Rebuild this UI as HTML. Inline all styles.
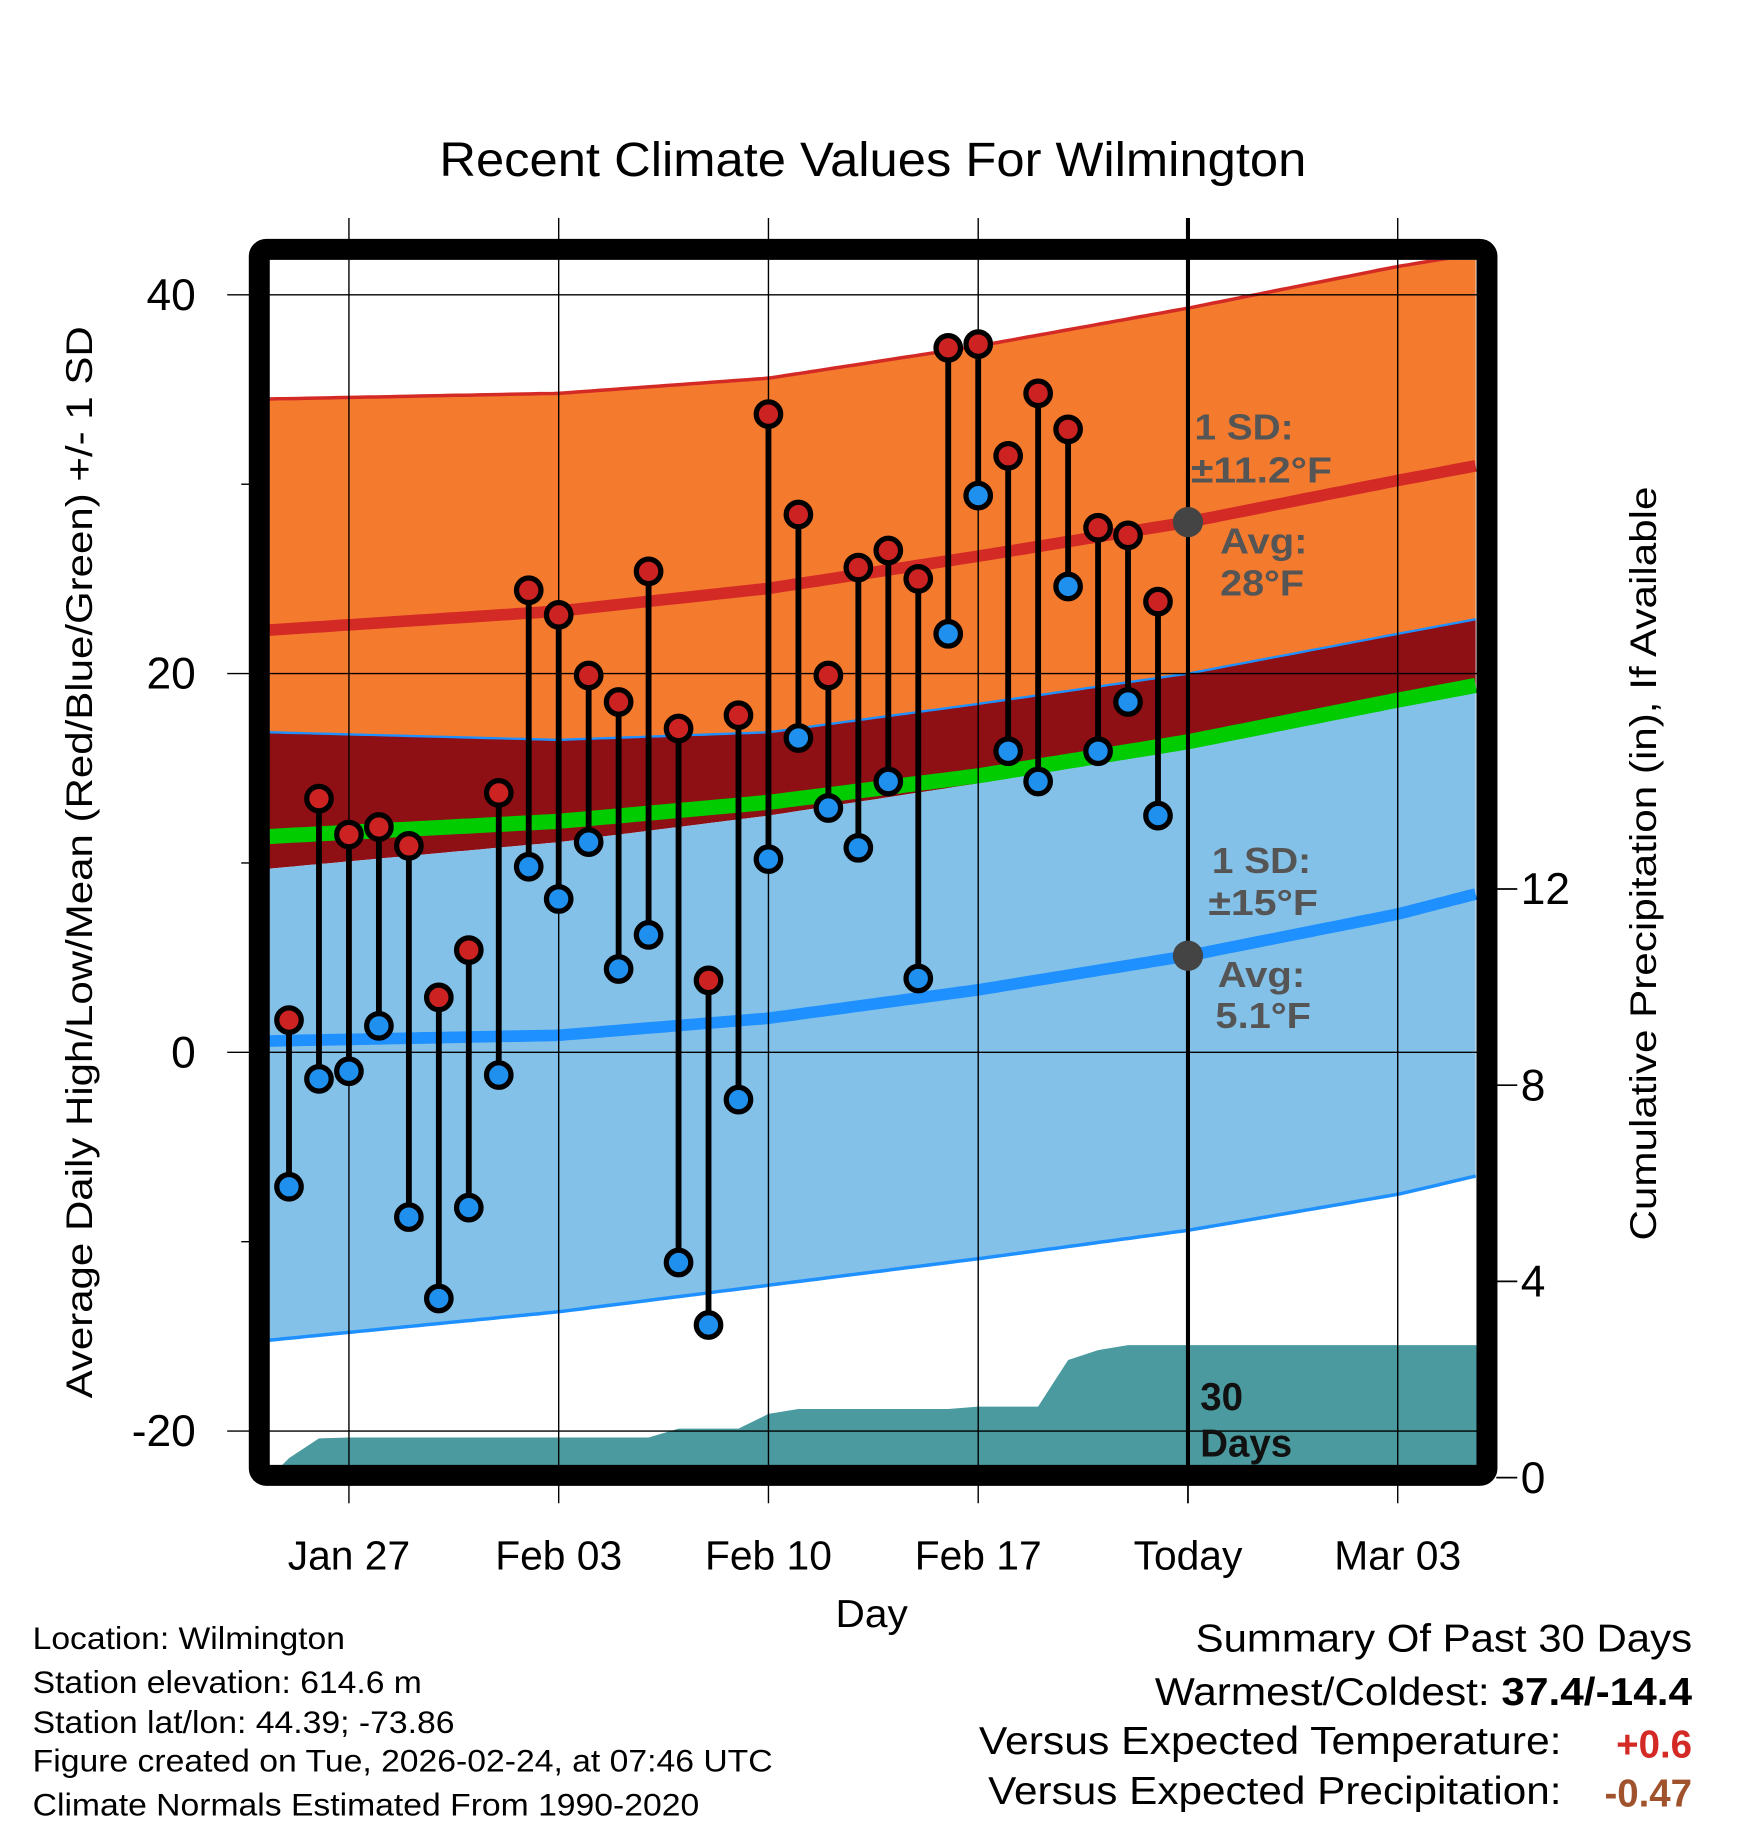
<!DOCTYPE html>
<html><head><meta charset="utf-8"><style>html,body{margin:0;padding:0;background:#fff}svg{display:block}text{font-family:"Liberation Sans",Arial,sans-serif}</style></head>
<body>
<svg id="chart" xmlns="http://www.w3.org/2000/svg" width="1748" height="1828" viewBox="0 0 1500 1568.6">
<defs><clipPath id="plotclip"><rect x="231" y="223" width="1037" height="1035"/></clipPath></defs>
<rect width="1500" height="1570" fill="#fff"/>
<g id="fills" clip-path="url(#plotclip)"></g>
<g id="grid"></g>
<g id="marks"></g>
<text x="377" y="151" font-size="41" textLength="744" lengthAdjust="spacingAndGlyphs">Recent Climate Values For Wilmington</text>
<text transform="translate(79,740) rotate(-90)" font-size="32" text-anchor="middle" textLength="920" lengthAdjust="spacingAndGlyphs">Average Daily High/Low/Mean (Red/Blue/Green) +/- 1 SD</text>
<text transform="translate(1421,741) rotate(-90)" font-size="32" text-anchor="middle" textLength="647" lengthAdjust="spacingAndGlyphs">Cumulative Precipitation (in), If Available</text>
<text x="717" y="1396" font-size="33" textLength="62" lengthAdjust="spacingAndGlyphs">Day</text>
<g font-size="27">
<text x="28" y="1415" textLength="268" lengthAdjust="spacingAndGlyphs">Location: Wilmington</text>
<text x="28" y="1453" textLength="334" lengthAdjust="spacingAndGlyphs">Station elevation: 614.6 m</text>
<text x="28" y="1487" textLength="362" lengthAdjust="spacingAndGlyphs">Station lat/lon: 44.39; -73.86</text>
<text x="28" y="1520" textLength="635" lengthAdjust="spacingAndGlyphs">Figure created on Tue, 2026-02-24, at 07:46 UTC</text>
<text x="28" y="1558" textLength="572" lengthAdjust="spacingAndGlyphs">Climate Normals Estimated From 1990-2020</text>
</g>
<g font-size="33">
<text x="1026" y="1417" textLength="426" lengthAdjust="spacingAndGlyphs">Summary Of Past 30 Days</text>
<text x="991" y="1463" textLength="461" lengthAdjust="spacingAndGlyphs">Warmest/Coldest: <tspan font-weight="bold">37.4/-14.4</tspan></text>
<text x="840" y="1505" textLength="500" lengthAdjust="spacingAndGlyphs">Versus Expected Temperature:</text>
<text x="1452" y="1508" font-weight="bold" fill="#d42a25" text-anchor="end">+0.6</text>
<text x="848" y="1548" textLength="492" lengthAdjust="spacingAndGlyphs">Versus Expected Precipitation:</text>
<text x="1452" y="1550" font-weight="bold" fill="#a0522d" text-anchor="end">-0.47</text>
</g>
</svg>
<script>
const knotDays=[-0.65,9,16,23,30,37,39.7];
const hiPlus=[34.5,34.8,35.6,37.3,39.3,41.5,42.2];
const hiAvg=[22.3,23.3,24.5,26.2,28.0,30.2,31.0];
const hiMinus=[16.9,16.5,16.9,18.4,20.0,22.1,22.9];
const loPlus=[9.7,11.1,12.5,14.2,16.2,18.4,19.3];
const meanT=[11.4,12.2,13.2,14.6,16.4,18.6,19.4];
const loAvg=[0.6,0.9,1.8,3.3,5.1,7.3,8.4];
const loMinus=[-15.2,-13.7,-12.3,-10.9,-9.4,-7.5,-6.5];
const highs=[1.7,13.4,11.5,11.9,10.9,2.9,5.4,13.7,24.4,23.1,19.9,18.5,25.4,17.1,3.8,17.8,33.7,28.4,19.9,25.6,26.5,25.0,37.2,37.4,31.5,34.8,32.9,27.7,27.3,23.8];
const lows=[-7.1,-1.4,-1.0,1.4,-8.7,-13.0,-8.2,-1.2,9.8,8.1,11.1,4.4,6.2,-11.1,-14.4,-2.5,10.2,16.6,12.9,10.8,14.3,3.9,22.1,29.4,15.9,14.3,24.6,15.9,18.5,12.5];
const precipCum=[0.4,0.8,0.82,0.82,0.82,0.82,0.82,0.82,0.82,0.82,0.82,0.82,0.82,1.0,1.0,1.0,1.3,1.4,1.4,1.4,1.4,1.4,1.4,1.45,1.45,1.45,2.4,2.6,2.7,2.7,2.7,2.7,2.7,2.7,2.7,2.7,2.7,2.7,2.7,2.7,2.7];
const yTicks=[40,20,0,-20];
const pTicks=[0,4,8,12];
const xTickDays=[2,9,16,23,30,37];
const xTickLabels=["Jan 27","Feb 03","Feb 10","Feb 17","Today","Mar 03"];

const NS="http://www.w3.org/2000/svg";
const X=d=>248+25.714*d;
const Y=v=>903-16.25*v;
const P=p=>1268-42.1*p;
function mk(tag,attrs,parent){const e=document.createElementNS(NS,tag);for(const k in attrs)e.setAttribute(k,attrs[k]);parent.appendChild(e);return e;}
function interp(arr,d){for(let i=0;i<knotDays.length-1;i++){if(d<=knotDays[i+1]||i===knotDays.length-2){const t=(d-knotDays[i])/(knotDays[i+1]-knotDays[i]);
 return arr[i]+(arr[i+1]-arr[i])*t;}}return arr[arr.length-1];}
function samples(arr){const pts=[];for(let d=knotDays[0];d<=knotDays[knotDays.length-1]+0.01;d+=0.25){pts.push([X(d),Y(interp(arr,d))]);}return pts;}
function line(arr){return samples(arr).map((p,i)=>(i?'L':'M')+p[0].toFixed(1)+','+p[1].toFixed(1)).join(' ');}
function band(a,b){const s1=samples(a),s2=samples(b).reverse();return 'M'+s1.concat(s2).map(p=>p[0].toFixed(1)+','+p[1].toFixed(1)).join(' L')+' Z';}
const F=document.getElementById('fills');
let e;
e=mk('path',{d:band(hiPlus,hiMinus),fill:'#f47a2e'},F);

e=mk('path',{d:band(hiMinus,loPlus),fill:'#8e0f14'},F);

e=mk('path',{d:band(loPlus,loMinus),fill:'#84c1e8'},F);

e=mk('path',{d:line(hiPlus),fill:'none',stroke:'#d42a25','stroke-width':3},F);

e=mk('path',{d:line(hiMinus),fill:'none',stroke:'#1e90ff','stroke-width':2},F);

e=mk('path',{d:line(loMinus),fill:'none',stroke:'#1e90ff','stroke-width':3},F);

e=mk('path',{d:line(meanT),fill:'none',stroke:'#00cc00','stroke-width':13},F);

e=mk('path',{d:line(hiAvg),fill:'none',stroke:'#d42a25','stroke-width':10},F);

e=mk('path',{d:line(loAvg),fill:'none',stroke:'#1e90ff','stroke-width':10},F);

let pd='M231,1258 L'+X(-0.65).toFixed(1)+','+P(0).toFixed(1);
precipCum.forEach((p,i)=>{pd+=' L'+X(i).toFixed(1)+','+P(p).toFixed(1);});
pd+=' L1270,'+P(precipCum[precipCum.length-1]).toFixed(1)+' L1270,1270 L231,1270 Z';
e=mk('path',{d:pd,fill:'#4a9aa0'},F);


const G=document.getElementById('grid');
yTicks.forEach(v=>{
 e=mk('line',{x1:195,x2:1268,y1:Y(v),y2:Y(v),stroke:'#000','stroke-width':1.2},G);
 
 e=mk('text',{x:168,y:Y(v)+13,'font-size':38,'text-anchor':'end'},G);e.textContent=v;
 
});
[30,10,-10].forEach(v=>{mk('line',{x1:207,x2:215,y1:Y(v),y2:Y(v),stroke:'#000','stroke-width':1.2},G);});
pTicks.forEach(p=>{
 e=mk('line',{x1:1284,x2:1302,y1:P(p),y2:P(p),stroke:'#000','stroke-width':1.5},G);
 
 e=mk('text',{x:1305,y:P(p)+13,'font-size':38},G);e.textContent=p;
 
});
xTickDays.forEach((d,i)=>{
 const today=xTickLabels[i]==='Today';
 e=mk('line',{x1:X(d),x2:X(d),y1:187,y2:today?1258:1290,stroke:'#000','stroke-width':today?3.5:1.2},G);
 
 if(today){mk('line',{x1:X(d),x2:X(d),y1:1266,y2:1290,stroke:'#000','stroke-width':1.5},G);}
 e=mk('text',{x:X(d),y:1347,'font-size':35,'text-anchor':'middle'},G);e.textContent=xTickLabels[i];
 
});
e=mk('rect',{x:222.5,y:214,width:1053.5,height:1052,fill:'none',stroke:'#000','stroke-width':18,rx:6},G);


const M=document.getElementById('marks');
highs.forEach((h,i)=>{
 e=mk('line',{x1:X(i),x2:X(i),y1:Y(h),y2:Y(lows[i]),stroke:'#000','stroke-width':5},M);
 
});
highs.forEach((h,i)=>{
 e=mk('circle',{cx:X(i),cy:Y(h),r:10.5,fill:'#cc2222',stroke:'#000','stroke-width':4.5},M);
 
 e=mk('circle',{cx:X(i),cy:Y(lows[i]),r:10.5,fill:'#2090ee',stroke:'#000','stroke-width':4.5},M);
 
});
e=mk('circle',{cx:X(30),cy:Y(interp(hiAvg,30)),r:13,fill:'#444'},M);

e=mk('circle',{cx:X(30),cy:Y(interp(loAvg,30)),r:13,fill:'#444'},M);

const ann=[[1025,377,'1 SD:',85],[1022,414,'±11.2°F',121],[1047,475,'Avg:',75],[1047,511,'28°F',72],[1040,749,'1 SD:',85],[1037,785,'±15°F',94],[1045,847,'Avg:',75],[1043,882,'5.1°F',82]];
ann.forEach(a=>{e=mk('text',{x:a[0],y:a[1],'font-size':31,'font-weight':'bold',fill:'#555',textLength:a[3],lengthAdjust:'spacingAndGlyphs'},M);e.textContent=a[2];
 });
[[1030,1210,'30'],[1030,1250,'Days']].forEach(a=>{e=mk('text',{x:a[0],y:a[1],'font-size':33,'font-weight':'bold',fill:'#111'},M);e.textContent=a[2];
 });
</script>
</body></html>
